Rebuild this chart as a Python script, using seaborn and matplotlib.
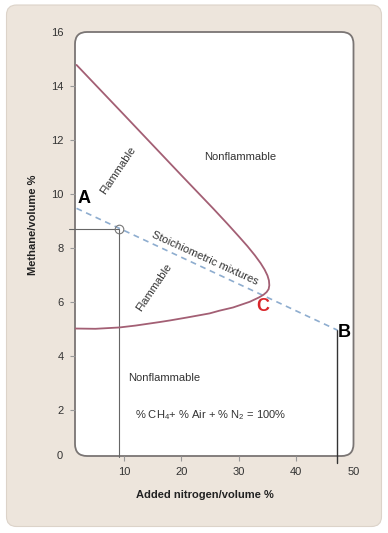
import matplotlib
matplotlib.use("Agg")
import matplotlib.pyplot as plt
import seaborn as sns
from matplotlib.patches import FancyBboxPatch

# flammability envelope: upper limit -> nose -> lower limit
limit_n2 = [1.7, 10.0, 20.0, 25.5, 28.0, 30.0, 31.5, 32.8, 33.8, 34.5, 35.0, 35.25, 35.32,
            35.2, 34.85, 34.3, 33.5, 31.9, 29.0, 26.6, 24.9, 21.0, 18.0, 16.2, 12.0, 9.2, 5.0, 1.5]
limit_ch4 = [14.78, 12.93, 10.69, 9.47, 8.90, 8.43, 8.07, 7.73, 7.44, 7.20, 6.98, 6.80, 6.62,
             6.48, 6.37, 6.27, 6.17, 6.01, 5.80, 5.68, 5.58, 5.43, 5.32, 5.26, 5.13, 5.06, 5.01, 5.02]

# stoichiometric mixtures line A -> B
stoich_n2 = [1.7, 47.2]
stoich_ch4 = [9.47, 4.96]

# marked point on the stoichiometric line and point B
point_n2, point_ch4 = 9.14, 8.70
b_n2, b_ch4 = 47.1, 4.96

x_ticks = [10, 20, 30, 40, 50]
y_ticks = [2, 4, 6, 8, 10, 12, 14, 16]

sns.set_theme(style="white")
plt.rcParams["font.family"] = ["Liberation Sans", "DejaVu Sans"]
plt.rcParams["mathtext.default"] = "regular"

W, H = 388, 533
fig = plt.figure(figsize=(W / 100, H / 100), dpi=100)
fig.patch.set_facecolor("white")

# beige rounded panel behind everything
panel = FancyBboxPatch((6.5 / W, 1 - 526.5 / H), 375 / W, 521.5 / H,
                       boxstyle="round,pad=0,rounding_size=%f" % (10 / W),
                       mutation_aspect=W / H, transform=fig.transFigure,
                       facecolor="#EDE5DC", edgecolor="#DCD3C9", lw=0.8, zorder=-10)
fig.add_artist(panel)

ax_l, ax_r, ax_t, ax_b = 75, 353.5, 32, 456
ax = fig.add_axes([ax_l / W, 1 - ax_b / H, (ax_r - ax_l) / W, (ax_b - ax_t) / H])
ax.set_facecolor("none")
for s in ax.spines.values():
    s.set_visible(False)

aw, ah = ax_r - ax_l, ax_b - ax_t
box = FancyBboxPatch((0, 0), 1, 1, boxstyle="round,pad=0,rounding_size=%f" % (12 / aw),
                     mutation_aspect=aw / ah, transform=ax.transAxes,
                     facecolor="white", edgecolor="#7A7574", lw=1.3, zorder=0.5, clip_on=False)
ax.add_patch(box)

# crosshair to the marked point and drop line from B
ax.plot([0.43, point_n2], [point_ch4, point_ch4], color="#666666", lw=0.8, clip_on=False, zorder=2)
ax.plot([point_n2, point_n2], [point_ch4, 0.27], color="#666666", lw=0.8, clip_on=False, zorder=2)
ax.plot([b_n2, b_n2], [b_ch4, 0.03], color="#333333", lw=1.0, clip_on=False, zorder=2)

sns.lineplot(x=stoich_n2, y=stoich_ch4, sort=False, estimator=None, ax=ax,
             color="#8EADCF", lw=1.2, linestyle=(0, (3.5, 2.8)), zorder=3)
sns.lineplot(x=limit_n2, y=limit_ch4, sort=False, estimator=None, ax=ax,
             color="#A35F74", lw=1.3, zorder=4)
ax.lines[-1].set_solid_joinstyle("round")
ax.plot([point_n2], [point_ch4], marker="o", ms=6.2, mfc="none", mec="#777777", mew=0.8, zorder=5)

ax.set_xlim(1.43, 49.8)
ax.set_ylim(0.3, 16)
ax.set_xticks(x_ticks)
ax.set_yticks(y_ticks)
ax.tick_params(axis="both", direction="out", length=3.5, width=0.8, color="#999999",
               labelsize=8, labelcolor="#333333", pad=4.5)
ax.tick_params(axis="both", left=True, bottom=True)
ax.xaxis.get_major_ticks()[-1].tick1line.set_visible(False)
ax.yaxis.get_major_ticks()[-1].tick1line.set_visible(False)
ax.text(-0.043, 0.3, "0", transform=ax.get_yaxis_transform(), ha="right", va="center",
        fontsize=8, color="#333333")

ax.set_xlabel("Added nitrogen/volume %", fontsize=8, fontweight="bold", color="#222222")
ax.set_ylabel("Methane/volume %", fontsize=8, fontweight="bold", color="#222222")
ax.xaxis.set_label_coords(0.467, -0.080)
ax.yaxis.set_label_coords(-0.133, 0.545)

txt = dict(fontsize=8, color="#333333", ha="center", va="center")
ax.text(8.96, 10.89, "Flammable", rotation=56, **txt)
ax.text(15.2, 6.54, "Flammable", rotation=56, **txt)
ax.text(30.3, 11.38, "Nonflammable", **txt)
ax.text(16.9, 3.2, "Nonflammable", **txt)
ax.text(24.03, 7.62, "Stoichiometric mixtures", rotation=-24.5, **txt)
ax.text(25.0, 1.81, "% CH$_4$+ % Air + % N$_2$ = 100%", **txt)

lab = dict(fontsize=13, fontweight="bold", ha="center", va="center")
ax.text(2.94, 9.84, "A", color="black", **lab)
ax.text(48.47, 4.86, "B", color="black", **lab)
ax.text(34.12, 5.83, "C", color="#D9262B", **lab)

fig.savefig("out.png", dpi=100)
